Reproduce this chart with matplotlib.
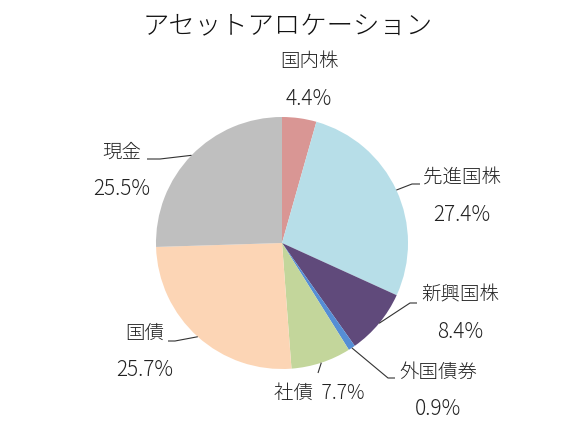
import numpy as np
import matplotlib
matplotlib.use("Agg")
import matplotlib.pyplot as plt

plt.rcParams['font.family'] = ['Noto Sans CJK JP', 'DejaVu Sans']

# ---- data ----
title = "アセットアロケーション"
categories = ["国内株", "先進国株", "新興国株", "外国債券", "社債", "国債", "現金"]
values = [4.4, 27.4, 8.4, 0.9, 7.7, 25.7, 25.5]
colors = ["#D99694", "#B7DEE8", "#604A7B", "#558ED5", "#C3D69B", "#FCD5B5", "#BFBFBF"]

# ---- layout (pixel coords, origin top-left) ----
W, H = 575, 432
cx, cy, R = 282, 243, 126
# label centre, elbow of leader, end of leader (None = no leader)
label_pos = [(309, 62), (462, 178), (460, 295), (438, 372), (319, 393), (145, 333), (122, 152)]
elbows = [None, (412, 184), (410, 303), (388, 378), (318, 373), (175, 341), (160, 159)]
ends = [None, (420, 184), (417, 303), (395, 378), None, (168, 341), (147, 159)]
single_line = [False, False, False, False, True, False, False]
pct_dy = 37

fig = plt.figure(figsize=(W / 100, H / 100), dpi=100)
ax = fig.add_axes([0, 0, 1, 1])

def Y(y):
    return H - y

wedges, _ = ax.pie(values, colors=colors, startangle=90, counterclock=False,
                   center=(cx, Y(cy)), radius=R, wedgeprops=dict(linewidth=0))
ax.set_xlim(0, W)
ax.set_ylim(0, H)
ax.set_aspect('equal')
ax.axis('off')

fs = 14
pfs = 15
total = sum(values)
cum = 0
for i, (cat, v) in enumerate(zip(categories, values)):
    mid = (cum + v / 2) / total * 360.0
    cum += v
    sx = cx + R * np.sin(np.radians(mid))
    sy = cy - R * np.cos(np.radians(mid))
    lx, ly = label_pos[i]
    pct = f"{v:.1f}%"
    if single_line[i]:
        ax.text(lx, Y(ly), f"{cat}  {pct}", ha='center', va='center', fontsize=fs,
                color='#222222', fontweight='light')
    else:
        ax.text(lx, Y(ly), cat, ha='center', va='center', fontsize=fs,
                color='#222222', fontweight='light')
        ax.text(lx, Y(ly + pct_dy), pct, ha='center', va='center', fontsize=pfs,
                color='#222222', fontweight='light')
    if elbows[i] is not None:
        xs = [sx, elbows[i][0]]
        ys = [Y(sy), Y(elbows[i][1])]
        if ends[i] is not None:
            xs.append(ends[i][0])
            ys.append(Y(ends[i][1]))
        ax.plot(xs, ys, color='#333333', linewidth=0.8, solid_capstyle='butt')

ax.text(288, Y(25), title, ha='center', va='center', fontsize=19, color='#111111',
        fontweight='light')

fig.savefig("out.png", dpi=100)
